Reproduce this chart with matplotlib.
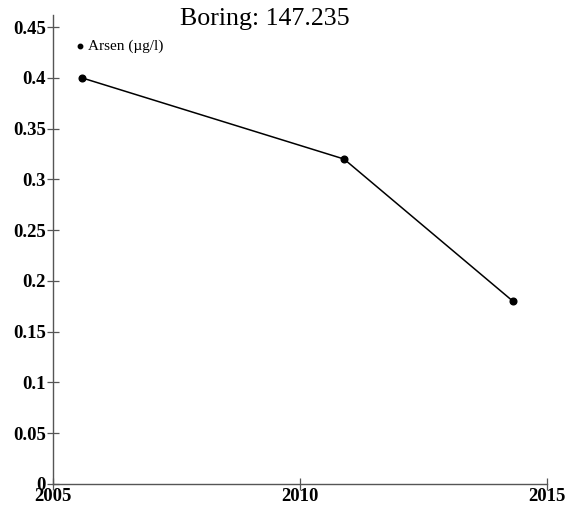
import matplotlib
matplotlib.use("Agg")
import matplotlib.pyplot as plt

years = [2005.58, 2010.89, 2014.31]
arsen = [0.40, 0.32, 0.18]
series_label = "Arsen (\u00b5g/l)"
title = "Boring: 147.235"
yticks = [0, 0.05, 0.1, 0.15, 0.2, 0.25, 0.3, 0.35, 0.4, 0.45]
ytick_labels = ["0", "0.05", "0.1", "0.15", "0.2", "0.25", "0.3", "0.35", "0.4", "0.45"]
xticks = [2005, 2010, 2015]

W, H = 569, 508
fig = plt.figure(figsize=(W/100, H/100), dpi=100)
x0, x1, y0, y1 = 53, 547, 484, 15
ax = fig.add_axes([x0/W, 1-y0/H, (x1-x0)/W, (y0-y1)/H])
serif = ["Liberation Serif", "DejaVu Serif"]

ax.plot(years, arsen, color="black", lw=1.1, marker="o", ms=4.8)
ax.set_xlim(2005, 2015)
ax.set_ylim(0, 0.45 * (y0 - y1) / (y0 - 27))
ax.set_xticks(xticks)
ax.set_xticklabels([str(x) for x in xticks], family=serif, fontweight="bold", fontsize=13.5)
ax.set_yticks(yticks)
ax.set_yticklabels(ytick_labels, family=serif, fontweight="bold", fontsize=13.5)
for s in ["top", "right"]:
    ax.spines[s].set_visible(False)
for s in ["left", "bottom"]:
    ax.spines[s].set_color("#555555")
    ax.spines[s].set_linewidth(1.0)
ax.tick_params(direction="inout", length=8, width=0.9, color="#555555")
ax.tick_params(axis="y", pad=1)
ax.tick_params(axis="x", pad=-1)

# legend
fig.lines.append(plt.Line2D([80/W], [1-46/H], marker="o", ms=3.2, color="black", transform=fig.transFigure))
fig.text(88/W, 1-46/H, series_label, family=serif, fontsize=11, va="center", ha="left")

fig.text(265/W, 1-19/H, title, family=serif, fontsize=18.6, ha="center", va="center")

fig.savefig("out.png", dpi=100)
